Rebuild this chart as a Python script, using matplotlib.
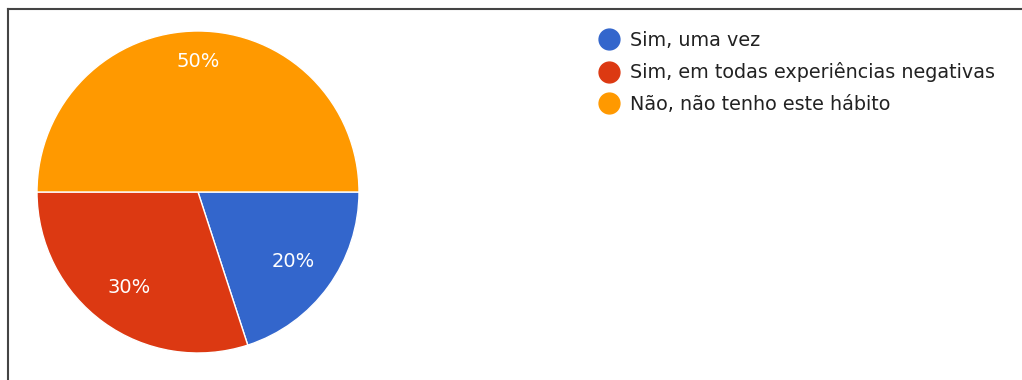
import numpy as np
import matplotlib.pyplot as plt
from matplotlib.lines import Line2D

# answers and shares
labels = ['Sim, uma vez', 'Sim, em todas experiências negativas', 'Não, não tenho este hábito']
shares = [20, 30, 50]
colors = ['#3366cc', '#dc3912', '#ff9900']

W, H = 1022, 380
fig = plt.figure(figsize=(W/100, H/100), dpi=100)
ax = fig.add_axes([0, 0, 1, 1])

cx, cy, r = 198, H-192, 161
# pie in pixel coordinates, starting at 3 o'clock, clockwise
wedges, texts, autotexts = ax.pie(shares, colors=colors, startangle=0, counterclock=False,
       center=(cx, cy), radius=r, frame=True,
       autopct='%d%%', pctdistance=0.75,
       wedgeprops=dict(edgecolor='white', linewidth=1),
       textprops=dict(color='white', fontsize=14))
# big slice gets its label a bit further out
for w, t in zip(wedges, autotexts):
    frac = (w.theta2 - w.theta1)/360
    d = 0.81 if frac >= 0.5 else 0.73
    ang = np.deg2rad((w.theta1 + w.theta2)/2)
    t.set_position((cx + d*r*np.cos(ang), cy + d*r*np.sin(ang)))

ax.set_xlim(0, W)
ax.set_ylim(0, H)
ax.set_aspect('auto')
ax.axis('off')

# left and top border lines
ax.plot([8, 8], [0, H-9], color='#444444', lw=1.5)
ax.plot([8, W], [H-9, H-9], color='#444444', lw=1.5)

handles = [Line2D([], [], marker='o', linestyle='none', markersize=15,
                  markerfacecolor=c, markeredgecolor=c) for c in colors]
leg = ax.legend(handles, labels, loc='upper left', bbox_to_anchor=(597/W, 1-31/H),
                frameon=False, fontsize=13.8, handletextpad=0.5, labelspacing=0.64,
                borderaxespad=0, borderpad=0, handlelength=1.2)
for t in leg.get_texts():
    t.set_color('#222222')

fig.savefig('out.png', dpi=100)
